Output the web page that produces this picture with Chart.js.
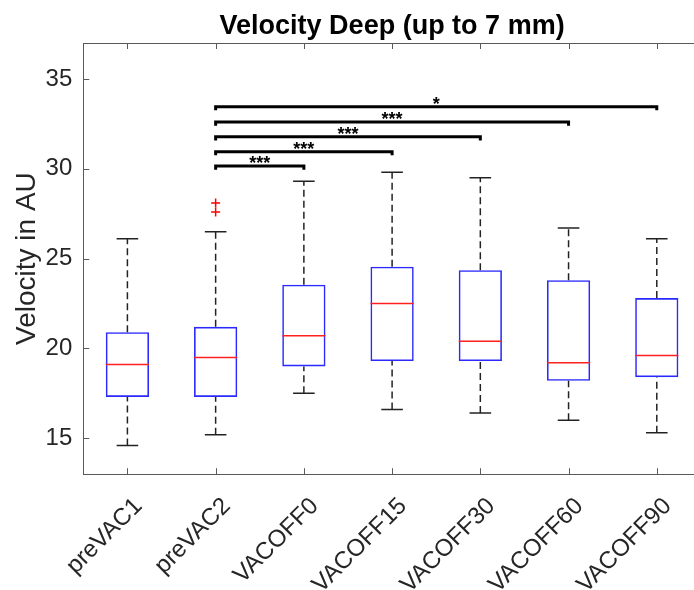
<!DOCTYPE html>
<html>
<head>
<meta charset="utf-8">
<script src="https://cdn.jsdelivr.net/npm/chart.js@4"></script>
<style>
  html, body { margin: 0; padding: 0; background: #fff; overflow: hidden; }
  #wrap { position: relative; width: 724px; height: 617px; }
</style>
</head>
<body>
<div id="wrap"><canvas id="c"></canvas></div>
<script>
// ---- data ----
const categories = ['preVAC1', 'preVAC2', 'VACOFF0', 'VACOFF15', 'VACOFF30', 'VACOFF60', 'VACOFF90'];
const whiskerLow  = [14.6, 15.2, 17.5, 16.6, 16.4, 16.0, 15.3];
const q1          = [17.3, 17.3, 19.0, 19.3, 19.3, 18.2, 18.4];
const medians     = [19.1, 19.5, 20.7, 22.5, 20.4, 19.2, 19.6];
const q3          = [20.9, 21.2, 23.55, 24.55, 24.35, 23.8, 22.8];
const whiskerHigh = [26.1, 26.5, 29.3, 29.8, 29.5, 26.7, 26.1];
const outlierCats   = ['preVAC2', 'preVAC2'];
const outlierValues = [27.6, 28.1];
const bracketFrom   = ['preVAC2', 'preVAC2', 'preVAC2', 'preVAC2', 'preVAC2'];
const bracketTo     = ['VACOFF0', 'VACOFF15', 'VACOFF30', 'VACOFF60', 'VACOFF90'];
const bracketHeight = [30.15, 30.95, 31.78, 32.6, 33.45];
const bracketLabels = ['***', '***', '***', '***', '*'];
const yTicks = [15, 20, 25, 30, 35];

// ---- styles ----
const FONT = "'Liberation Sans', Arial, Helvetica, sans-serif";
const HOOK = 0.2;   // bracket end drop in data units
const AXIS_COLOR = '#5a5a5a';
const TEXT_COLOR = '#262626';

// build derived structures
const upperWhisk = [], lowerWhisk = [];
categories.forEach((c, i) => {
  upperWhisk.push({x: c, y: q3[i]}, {x: c, y: whiskerHigh[i]}, {x: c, y: null});
  lowerWhisk.push({x: c, y: whiskerLow[i]}, {x: c, y: q1[i]}, {x: c, y: null});
});
const bracketData = [];
bracketFrom.forEach((f, i) => {
  bracketData.push({x: f, y: bracketHeight[i] - HOOK}, {x: f, y: bracketHeight[i]},
                   {x: bracketTo[i], y: bracketHeight[i]}, {x: bracketTo[i], y: bracketHeight[i] - HOOK},
                   {x: bracketTo[i], y: null});
});

const insideTicks = {
  id: 'insideTicks',
  afterDraw(chart) {
    const ctx = chart.ctx, a = chart.chartArea, L = 6;
    ctx.save();
    ctx.strokeStyle = AXIS_COLOR; ctx.lineWidth = 1;
    const xs = chart.scales.x;
    xs.ticks.forEach((t, i) => {
      const px = Math.round(xs.getPixelForTick(i)) + 0.5;
      ctx.beginPath(); ctx.moveTo(px, a.bottom); ctx.lineTo(px, a.bottom - L); ctx.stroke();
      ctx.beginPath(); ctx.moveTo(px, a.top); ctx.lineTo(px, a.top + L); ctx.stroke();
    });
    const ys = chart.scales.y;
    ys.ticks.forEach((t, i) => {
      const py = Math.round(ys.getPixelForTick(i)) + 0.5;
      ctx.beginPath(); ctx.moveTo(a.left, py); ctx.lineTo(a.left + L, py); ctx.stroke();
    });
    ctx.restore();
  }
};

const starLabels = {
  id: 'starLabels',
  afterDatasetsDraw(chart) {
    const ctx = chart.ctx, xs = chart.scales.x, ys = chart.scales.y;
    ctx.save();
    ctx.fillStyle = '#000';
    ctx.font = 'bold 18px ' + FONT;
    ctx.textAlign = 'center';
    ctx.textBaseline = 'alphabetic';
    bracketLabels.forEach((lab, i) => {
      const x = (xs.getPixelForValue(categories.indexOf(bracketFrom[i])) +
                 xs.getPixelForValue(categories.indexOf(bracketTo[i]))) / 2;
      const y = ys.getPixelForValue(bracketHeight[i]) + 3;
      ctx.fillText(lab, x, y);
    });
    ctx.restore();
  }
};

new Chart(document.getElementById('c'), {
  type: 'bar',
  data: {
    labels: categories,
    datasets: [
      { type: 'line', label: 'brackets', data: bracketData, borderColor: '#000', borderWidth: 3,
        pointRadius: 0, spanGaps: false, fill: false, borderCapStyle: 'butt', borderJoinStyle: 'miter' },
      { type: 'line', label: 'outliers', data: outlierCats.map((c, i) => ({x: c, y: outlierValues[i]})),
        showLine: false, pointStyle: 'cross', pointRadius: 4.5, borderColor: '#ff0000', borderWidth: 1.5 },
      { type: 'line', label: 'medians', data: medians, showLine: false, pointStyle: 'line',
        pointRadius: 21.6, borderColor: '#ff2020', borderWidth: 1.5 },
      { type: 'line', label: 'capsHigh', data: whiskerHigh, showLine: false, pointStyle: 'line',
        pointRadius: 10.8, borderColor: '#222', borderWidth: 1.5 },
      { type: 'line', label: 'capsLow', data: whiskerLow, showLine: false, pointStyle: 'line',
        pointRadius: 10.8, borderColor: '#222', borderWidth: 1.5 },
      { type: 'line', label: 'upperWhisker', data: upperWhisk, borderColor: '#222', borderWidth: 1.5,
        borderDash: [7, 4], pointRadius: 0, spanGaps: false, fill: false },
      { type: 'line', label: 'lowerWhisker', data: lowerWhisk, borderColor: '#222', borderWidth: 1.5,
        borderDash: [7, 4], pointRadius: 0, spanGaps: false, fill: false },
      { type: 'bar', label: 'boxes', data: q1.map((v, i) => [v, q3[i]]),
        backgroundColor: 'rgba(0,0,0,0)', borderColor: '#2a2aff', borderWidth: 1.6,
        borderSkipped: false, barPercentage: 0.49, categoryPercentage: 1 }
    ]
  },
  options: {
    responsive: true,
    maintainAspectRatio: false,
    animation: false,
    layout: { padding: { left: 5, right: 18, top: 0, bottom: 0 } },
    plugins: {
      legend: { display: false },
      tooltip: { enabled: false },
      title: {
        display: true, text: 'Velocity Deep (up to 7 mm)', color: '#000', fullSize: false,
        font: { family: FONT, size: 27, weight: 'bold' }, padding: { top: 10, bottom: 0.6 }
      }
    },
    scales: {
      x: {
        type: 'category', offset: true,
        afterFit: (s) => { s.paddingLeft = 0; s.paddingRight = 0; },
        grid: { display: false, drawTicks: false },
        border: { display: true, color: AXIS_COLOR, width: 1 },
        ticks: { color: TEXT_COLOR, font: { family: FONT, size: 24 }, minRotation: 45, maxRotation: 45,
                 padding: 18, labelOffset: 11, autoSkip: false }
      },
      x2: {
        type: 'category', position: 'top', offset: true, labels: categories,
        afterFit: (s) => { s.paddingLeft = 0; s.paddingRight = 0; },
        grid: { display: false, drawTicks: false },
        border: { display: true, color: AXIS_COLOR, width: 1 },
        ticks: { display: false }
      },
      y: {
        type: 'linear', min: 13, max: 37,
        afterBuildTicks: (s) => { s.ticks = yTicks.map(v => ({ value: v })); },
        afterFit: (s) => { s.width -= s.options.ticks.padding; },
        grid: { display: false, drawTicks: false },
        border: { display: true, color: AXIS_COLOR, width: 1 },
        ticks: { color: TEXT_COLOR, font: { family: FONT, size: 24 }, padding: 11 },
        title: { display: true, text: 'Velocity in AU', color: TEXT_COLOR,
                 font: { family: FONT, size: 28 }, padding: { top: 5, bottom: 2 } }
      }
    }
  },
  plugins: [insideTicks, starLabels]
});
</script>
</body>
</html>
